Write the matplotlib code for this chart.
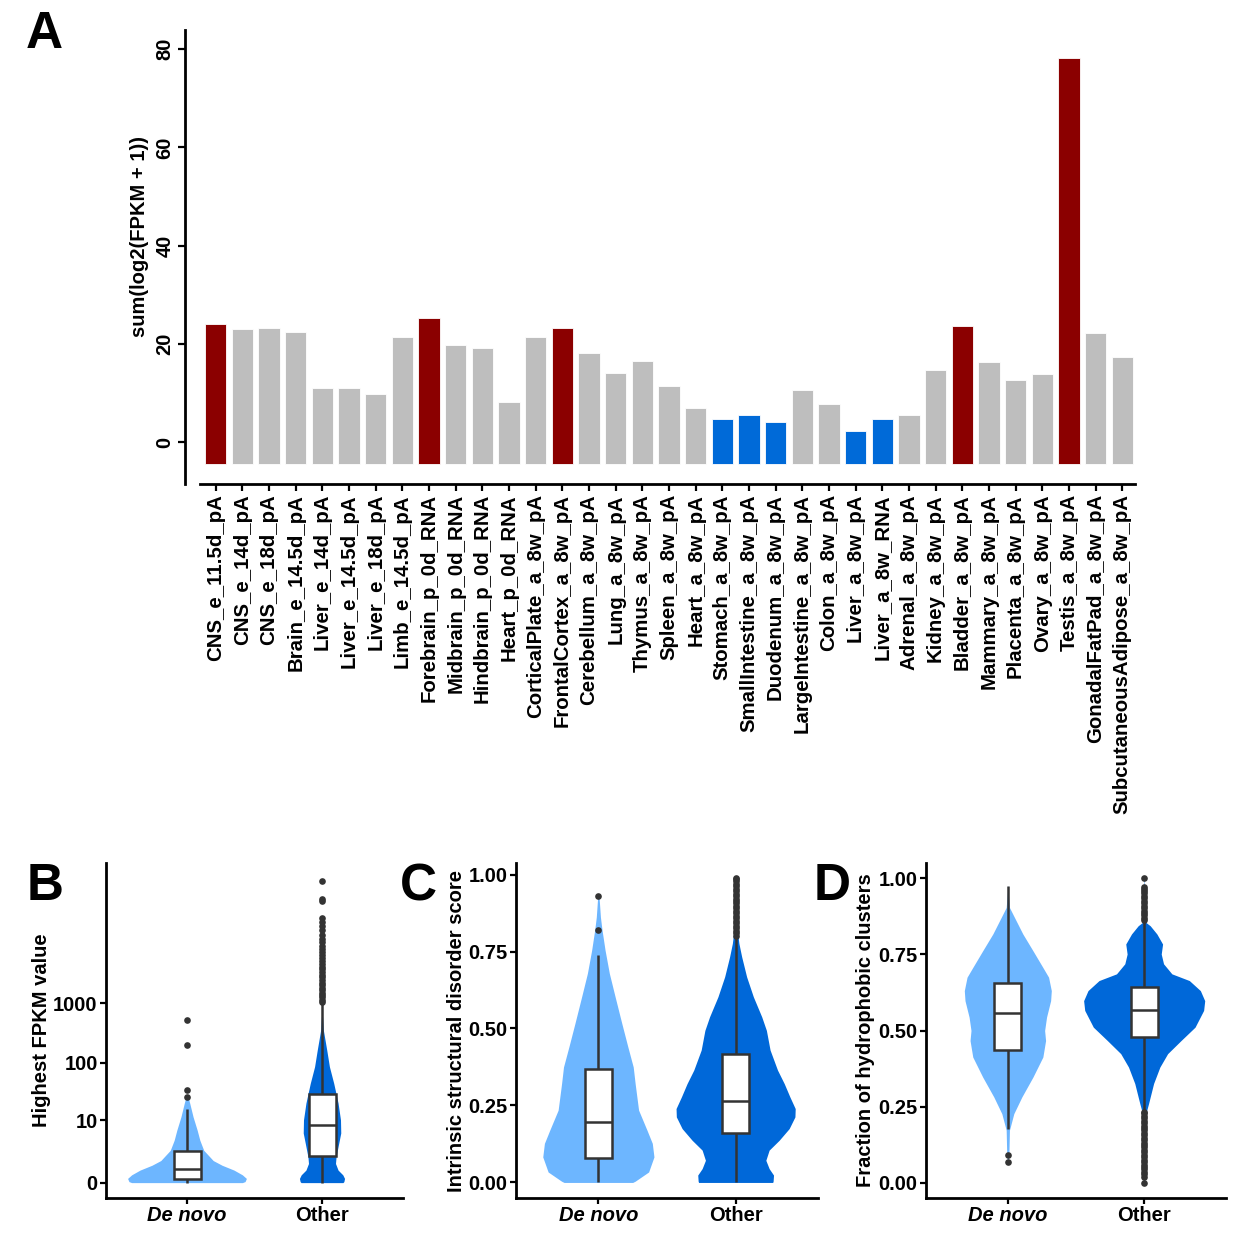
import numpy as np
import matplotlib
matplotlib.use('Agg')
import matplotlib.pyplot as plt
from matplotlib.patches import Rectangle

# ---- data: panel A ----
tissues = ['CNS_e_11.5d_pA', 'CNS_e_14d_pA', 'CNS_e_18d_pA', 'Brain_e_14.5d_pA',
           'Liver_e_14d_pA', 'Liver_e_14.5d_pA', 'Liver_e_18d_pA', 'Limb_e_14.5d_pA',
           'Forebrain_p_0d_RNA', 'Midbrain_p_0d_RNA', 'Hindbrain_p_0d_RNA', 'Heart_p_0d_RNA',
           'CorticalPlate_a_8w_pA', 'FrontalCortex_a_8w_pA', 'Cerebellum_a_8w_pA', 'Lung_a_8w_pA',
           'Thymus_a_8w_pA', 'Spleen_a_8w_pA', 'Heart_a_8w_pA', 'Stomach_a_8w_pA',
           'SmallIntestine_a_8w_pA', 'Duodenum_a_8w_pA', 'LargeIntestine_a_8w_pA', 'Colon_a_8w_pA',
           'Liver_a_8w_pA', 'Liver_a_8w_RNA', 'Adrenal_a_8w_pA', 'Kidney_a_8w_pA',
           'Bladder_a_8w_pA', 'Mammary_a_8w_pA', 'Placenta_a_8w_pA', 'Ovary_a_8w_pA',
           'Testis_a_8w_pA', 'GonadalFatPad_a_8w_pA', 'SubcutaneousAdipose_a_8w_pA']
sum_log2 = [24.0, 23.1, 23.3, 22.5, 11.0, 11.1, 9.8, 21.3,
            25.2, 19.7, 19.1, 8.1, 21.3, 23.3, 18.2, 14.1,
            16.4, 11.5, 6.9, 4.7, 5.4, 4.1, 10.5, 7.7,
            2.3, 4.6, 5.4, 14.7, 23.7, 16.2, 12.6, 13.8,
            78.2, 22.3, 17.3]
tissue_class = ['high', 'mid', 'mid', 'mid', 'mid', 'mid', 'mid', 'mid',
                'high', 'mid', 'mid', 'mid', 'mid', 'high', 'mid', 'mid',
                'mid', 'mid', 'mid', 'low', 'low', 'low', 'mid', 'mid',
                'low', 'low', 'mid', 'mid', 'high', 'mid', 'mid', 'mid',
                'high', 'mid', 'mid']

groups = ['De novo', 'Other']

# ---- data: panel B (Highest FPKM value) ----
b_denovo_y = [0, 0.04, 0.175, 0.35, 0.62, 0.95, 1.34, 2.47, 4.13, 6.59, 11.6, 20.4, 26.5]
b_denovo_w = [0.41, 0.43, 0.44, 0.41, 0.348, 0.26, 0.194, 0.124, 0.095, 0.075, 0.045, 0.02, 0.007]
b_other_y = [0, 0.04, 0.175, 0.35, 0.62, 1.09, 1.69, 3.57, 5.76, 10.2, 20.4, 44.7, 86, 165, 354, 602]
b_other_w = [0.155, 0.162, 0.167, 0.154, 0.119, 0.10, 0.104, 0.124, 0.139, 0.137, 0.119,
             0.087, 0.055, 0.035, 0.01, 0.004]
b_box = [[0, 0.14, 0.67, 2.43, 16], [0, 1.83, 8.2, 29, 1000]]
b_out_denovo = [26.5, 34.5, 198, 524]
b_out_other = [1050, 1150, 1250, 1380, 1500, 1650, 1800, 2000, 2200, 2450, 2700, 3000,
               3300, 3700, 4100, 4600, 5100, 5700, 6400, 7200, 8100, 9200, 10500, 12000,
               14000, 16500, 19500, 23000, 26500, 51000, 56000, 112000]

# ---- data: panel C (Intrinsic structural disorder score) ----
c_denovo_y = [0.0, 0.004, 0.034, 0.083, 0.127, 0.17, 0.235, 0.321, 0.375, 0.44, 0.516,
              0.603, 0.679, 0.754, 0.819, 0.862, 0.927]
c_denovo_w = [0.25, 0.268, 0.366, 0.405, 0.393, 0.354, 0.293, 0.268, 0.254, 0.215, 0.171,
              0.122, 0.08, 0.049, 0.027, 0.015, 0.005]
c_other_y = [0.0, 0.004, 0.024, 0.045, 0.072, 0.105, 0.137, 0.175, 0.213, 0.24, 0.278,
             0.321, 0.365, 0.43, 0.494, 0.538, 0.603, 0.668, 0.733, 0.776, 0.819, 0.949, 0.99]
c_other_w = [0.27, 0.273, 0.276, 0.244, 0.22, 0.244, 0.317, 0.39, 0.432, 0.434, 0.395,
             0.354, 0.305, 0.251, 0.224, 0.19, 0.129, 0.08, 0.044, 0.024, 0.012, 0.005, 0.002]
c_box = [[0, 0.078, 0.197, 0.37, 0.74], [0, 0.159, 0.265, 0.417, 0.795]]
c_out_denovo = [0.821, 0.93]
c_out_other = [0.802, 0.81, 0.818, 0.826, 0.834, 0.842, 0.85, 0.858, 0.866, 0.874, 0.882,
               0.89, 0.898, 0.906, 0.914, 0.922, 0.93, 0.938, 0.946, 0.954, 0.962, 0.97,
               0.978, 0.985, 0.99]

# ---- data: panel D (Fraction of hydrophobic clusters) ----
d_denovo_y = [0.067, 0.096, 0.173, 0.227, 0.282, 0.347, 0.413, 0.467, 0.5, 0.544, 0.598,
              0.631, 0.675, 0.707, 0.762, 0.817, 0.871, 0.904, 0.959, 0.975]
d_denovo_w = [0.002, 0.008, 0.012, 0.044, 0.103, 0.184, 0.257, 0.277, 0.27, 0.284, 0.314,
              0.319, 0.299, 0.257, 0.184, 0.11, 0.049, 0.012, 0.002, 0.001]
d_other_y = [0.0, 0.1, 0.227, 0.26, 0.326, 0.38, 0.424, 0.467, 0.511, 0.566, 0.598, 0.631,
             0.664, 0.686, 0.719, 0.751, 0.784, 0.817, 0.844, 0.855, 0.871, 0.95, 1.0]
d_other_w = [0.002, 0.004, 0.012, 0.032, 0.069, 0.115, 0.172, 0.27, 0.373, 0.436, 0.444,
             0.412, 0.331, 0.203, 0.142, 0.125, 0.135, 0.093, 0.044, 0.012, 0.005, 0.002, 0.001]
d_box = [[0.178, 0.435, 0.558, 0.655, 0.975], [0.238, 0.478, 0.568, 0.644, 0.855]]
d_out_denovo = [0.09, 0.067]
d_out_other = [0.0, 0.02, 0.028, 0.036, 0.044, 0.052, 0.06, 0.068, 0.076, 0.084, 0.092,
               0.1, 0.108, 0.116, 0.124, 0.132, 0.14, 0.148, 0.156, 0.164, 0.172, 0.18,
               0.188, 0.196, 0.204, 0.212, 0.22, 0.228, 0.234,
               0.862, 0.87, 0.878, 0.886, 0.894, 0.902, 0.91, 0.918, 0.926, 0.934, 0.942,
               0.95, 0.958, 0.966, 0.972, 1.0]

# ---- style ----
plt.rcParams['font.family'] = ['Liberation Sans', 'DejaVu Sans']
plt.rcParams['font.weight'] = 'bold'
plt.rcParams['axes.labelweight'] = 'bold'

bar_colors = {'high': '#8B0000', 'mid': '#BEBEBE', 'low': '#006AD8'}
violin_colors = ['#6DB6FF', '#0068D9']
box_edge = '#333333'
BAR_BASE = -4.5
W = 1234
H = 1236


def fig_rect(left, top, right, bottom):
    return [left / W, 1 - bottom / H, (right - left) / W, (bottom - top) / H]


def style_axes(ax):
    for side in ['top', 'right']:
        ax.spines[side].set_visible(False)
    for side in ['left', 'bottom']:
        ax.spines[side].set_linewidth(2.0)
        ax.spines[side].set_color('black')
    ax.tick_params(width=1.6, length=4.5, color='black', labelcolor='black', pad=1.5)


def draw_violin(ax, pos, ys, ws, color):
    ys = np.asarray(ys, dtype=float)
    ws = np.asarray(ws, dtype=float)
    ax.fill_betweenx(ys, pos - ws, pos + ws, color=color, lw=0, zorder=1)


def draw_box(ax, pos, stats, outliers):
    lo, q1, med, q3, hi = stats
    ax.plot([pos, pos], [lo, q1], color=box_edge, lw=1.8, zorder=2, solid_capstyle='butt')
    ax.plot([pos, pos], [q3, hi], color=box_edge, lw=1.8, zorder=2, solid_capstyle='butt')
    ax.add_patch(Rectangle((pos - 0.1, q1), 0.2, q3 - q1, facecolor='white',
                           edgecolor=box_edge, lw=1.8, zorder=3))
    ax.plot([pos - 0.1, pos + 0.1], [med, med], color=box_edge, lw=1.8, zorder=4,
            solid_capstyle='butt')
    ax.plot([pos] * len(outliers), outliers, 'o', color=box_edge, ms=4.8, mew=0, zorder=5)


fig = plt.figure(figsize=(W / 100, H / 100), dpi=100)

# ---- panel A ----
axA = fig.add_axes(fig_rect(200, 30, 1135, 484))
xA = np.arange(len(tissues))
heights = np.array(sum_log2) - BAR_BASE
axA.bar(xA, heights, bottom=BAR_BASE, width=0.8,
        color=[bar_colors[c] for c in tissue_class], edgecolor='white', linewidth=0.6)
axA.set_xlim(-0.59, len(tissues) - 0.52)
axA.set_ylim(-8.55, 83.9)
style_axes(axA)
axA.spines['left'].set_position(('outward', 11))
axA.tick_params(length=5.2, pad=2)
axA.set_xticks(xA)
axA.set_xticklabels(tissues, rotation=90, fontsize=14.7, fontweight='bold')
axA.set_yticks([0, 20, 40, 60, 80])
axA.set_yticklabels(['0', '20', '40', '60', '80'], rotation=90, va='center', fontsize=14.5)
axA.set_ylabel('sum(log2(FPKM + 1))', fontsize=14.5, fontweight='bold')
axA.yaxis.set_label_coords(-0.0545, 0.545)

# ---- panel B ----
axB = fig.add_axes(fig_rect(106, 863, 403, 1198))


def fwd(v):
    v = np.asarray(v, dtype=float)
    with np.errstate(invalid='ignore', divide='ignore'):
        return np.log10(np.maximum(v + 1, 1e-12))


def inv(v):
    return 10 ** np.asarray(v, dtype=float) - 1


axB.set_yscale('function', functions=(fwd, inv))
draw_violin(axB, 1, b_denovo_y, b_denovo_w, violin_colors[0])
draw_violin(axB, 2, b_other_y, b_other_w, violin_colors[1])
draw_box(axB, 1, b_box[0], b_out_denovo)
draw_box(axB, 2, b_box[1], b_out_other)
axB.set_ylim(-0.447, 2.22e5)
axB.set_yticks([0, 10, 100, 1000])
axB.set_yticklabels(['0', '10', '100', '1000'])
axB.yaxis.set_minor_locator(matplotlib.ticker.NullLocator())
axB.set_ylabel('Highest FPKM value', fontsize=14.5)
axB.yaxis.set_label_coords(-0.186, 0.5)

# ---- panel C ----
axC = fig.add_axes(fig_rect(516, 863, 818, 1198))
draw_violin(axC, 1, c_denovo_y, c_denovo_w, violin_colors[0])
draw_violin(axC, 2, c_other_y, c_other_w, violin_colors[1])
draw_box(axC, 1, c_box[0], c_out_denovo)
draw_box(axC, 2, c_box[1], c_out_other)
axC.set_ylim(-0.0505, 1.0375)
axC.set_yticks([0, 0.25, 0.5, 0.75, 1.0])
axC.set_yticklabels(['0.00', '0.25', '0.50', '0.75', '1.00'])
axC.set_ylabel('Intrinsic structural disorder score', fontsize=14.5)
axC.yaxis.set_label_coords(-0.166, 0.5)

# ---- panel D ----
axD = fig.add_axes(fig_rect(926, 863, 1226, 1198))
draw_violin(axD, 1, d_denovo_y, d_denovo_w, violin_colors[0])
draw_violin(axD, 2, d_other_y, d_other_w, violin_colors[1])
draw_box(axD, 1, d_box[0], d_out_denovo)
draw_box(axD, 2, d_box[1], d_out_other)
axD.set_ylim(-0.05, 1.05)
axD.set_yticks([0, 0.25, 0.5, 0.75, 1.0])
axD.set_yticklabels(['0.00', '0.25', '0.50', '0.75', '1.00'])
axD.set_ylabel('Fraction of hydrophobic clusters', fontsize=14.5)
axD.yaxis.set_label_coords(-0.17, 0.5)

for ax in [axB, axC, axD]:
    ax.set_xlim(0.4, 2.6)
    style_axes(ax)
    ax.set_xticks([1, 2])
    ax.set_xticklabels(groups)
    ax.get_xticklabels()[0].set_fontstyle('italic')
    ax.tick_params(labelsize=14.5)

# ---- panel letters ----
for letter, x, y in [('A', 44, 35), ('B', 45, 887), ('C', 418, 887), ('D', 832, 887)]:
    fig.text(x / W, 1 - y / H, letter, fontsize=37, fontweight='bold',
             ha='center', va='center')

fig.savefig('out.png', dpi=100)
